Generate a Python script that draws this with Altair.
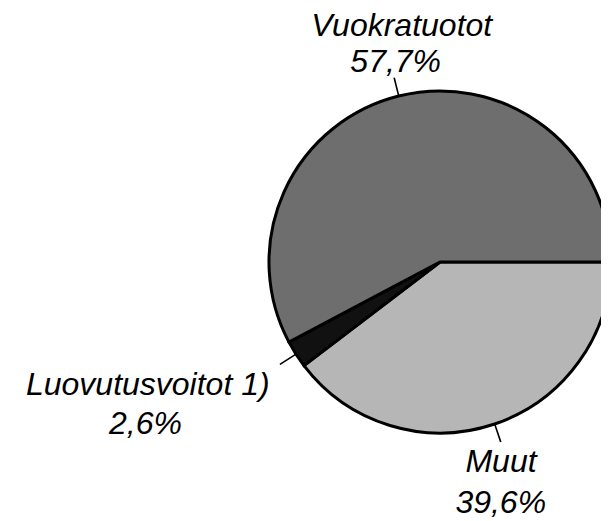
import altair as alt
import pandas as pd

# --- data ---
categories = ["Muut", "Luovutusvoitot 1)", "Vuokratuotot"]
values = [39.6, 2.6, 57.7]
pct_labels = ["39,6%", "2,6%", "57,7%"]
order = [1, 2, 3]

colors = ["#b6b6b6", "#111111", "#6e6e6e"]

df = pd.DataFrame({
    "category": categories,
    "value": values,
    "pct": pct_labels,
    "order": order,
})

CX, CY = 432, 254      # pie centre inside the plot area
R = 171                # pie radius
FONT = "Liberation Sans"
FS = 32

base = (
    alt.Chart(df)
    .transform_joinaggregate(total="sum(value)")
    .transform_window(cum="sum(value)", sort=[alt.SortField("order")])
    .transform_calculate(
        start="PI/2 + 2*PI*(datum.cum - datum.value)/datum.total",
        end="PI/2 + 2*PI*datum.cum/datum.total",
    )
    .transform_calculate(
        mid="(datum.start + datum.end)/2",
        l1="(datum.start + datum.end)/2 - 0.0045",
        l2="(datum.start + datum.end)/2 + 0.0045",
    )
)

pie = base.mark_arc(stroke="black", strokeWidth=3).encode(
    theta=alt.Theta("start:Q", scale=None, stack=None),
    theta2="end:Q",
    radius=alt.value(R),
    fill=alt.Fill("category:N", scale=alt.Scale(domain=categories, range=colors), legend=None),
    x=alt.value(CX),
    y=alt.value(CY),
)

leaders = base.mark_arc(color="black").encode(
    theta=alt.Theta("l1:Q", scale=None, stack=None),
    theta2="l2:Q",
    radius=alt.value(R),
    radius2=alt.value(R + 19),
    x=alt.value(CX),
    y=alt.value(CY),
)

# label placement: (radius, dx, dy) for name and percentage
placement = {
    "Vuokratuotot": [(233, 18, 0), (196, 3, 0)],
    "Luovutusvoitot 1)": [(246, -85, 0), (320, -25, 0)],
    "Muut": [(222, -10, 0), (265, -24, 0)],
}

layers = [pie, leaders]
for cat in categories:
    for field, (r, dx, dy) in zip(["category", "pct"], placement[cat]):
        layers.append(
            base.transform_filter(alt.datum.category == cat)
            .mark_text(
                font=FONT, fontSize=FS, fontStyle="italic", color="black",
                align="center", baseline="alphabetic", dx=dx, dy=dy,
            )
            .encode(
                theta=alt.Theta("mid:Q", scale=None, stack=None),
                radius=alt.value(r),
                text=f"{field}:N",
                x=alt.value(CX),
                y=alt.value(CY),
            )
        )

chart = (
    alt.layer(*layers)
    .properties(width=593, height=513, autosize=alt.AutoSizeParams(type="none"), padding=0)
    .configure_view(stroke=None)
)

chart.save("out.html", embed_options={"renderer": "svg", "actions": False})
